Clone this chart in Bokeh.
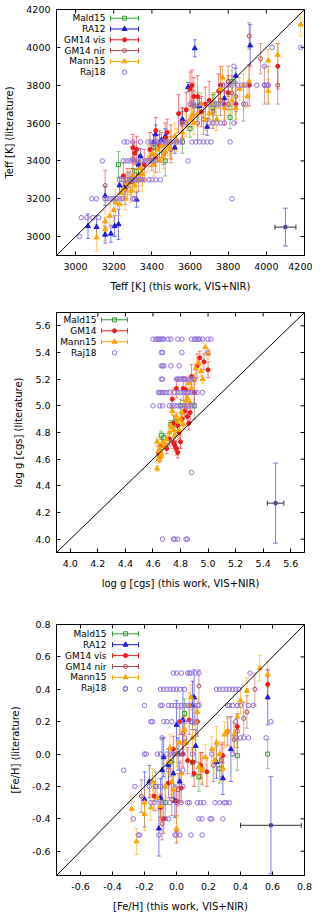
from bokeh.plotting import figure
from bokeh.models import (ColumnDataSource, Whisker, TeeHead, Slope,
                          FixedTicker, NumeralTickFormatter, Range1d, Label)
from bokeh.layouts import column
from bokeh.embed import file_html
from bokeh.resources import INLINE

FONT = "DejaVu Sans"

# ---------------- colours ----------------
C_MALD = "#2f9a2f"
C_RA = "#1a1ae0"
C_GMV = "#f01818"
C_GMN = "#b24a4a"
C_MANN = "#ffa500"
C_RAJ = "#9370db"

# ---------------- panel 1 : Teff ----------------
teff_range = [2900, 4200]
teff_ticks = [3000, 3200, 3400, 3600, 3800, 4000, 4200]

teff_mald15_x = [3225, 3300, 3320, 3410, 3470, 3560, 3600, 3640, 3720, 3730, 3810, 3820]
teff_mald15_y = [3380, 3300, 3345, 3470, 3400, 3500, 3570, 3690, 3680, 3700, 3630, 3820]
teff_mald15_e = [70, 60, 60, 70, 80, 60, 45, 70, 70, 60, 60, 60]

teff_ra12_x = [3065, 3110, 3155, 3155, 3185, 3205, 3225, 3230, 3255, 3280, 3320, 3330, 3340, 3420,
               3450, 3470, 3520, 3560, 3590, 3625, 3650, 3690, 3780, 3840, 3915, 3300, 3410]
teff_ra12_y = [3055, 3050, 3010, 3215, 3015, 3055, 3065, 3270, 3260, 3300, 3195, 3380, 3425, 3540,
               3510, 3530, 3470, 3620, 3790, 3995, 3690, 3580, 3730, 3850, 4010, 3320, 3500]
teff_ra12_e = [65, 60, 45, 50, 45, 55, 80, 45, 50, 40, 40, 50, 40, 50,
               40, 40, 30, 40, 25, 45, 40, 45, 40, 40, 110, 40, 40]

teff_gm14vis_x = [3250, 3270, 3300, 3310, 3320, 3360, 3390, 3420, 3440, 3470, 3480, 3500, 3540, 3560, 3580,
                  3600, 3610, 3620, 3640, 3660, 3680, 3700, 3750, 3760, 3780, 3800, 3840, 3910, 4060, 3420]
teff_gm14vis_y = [3320, 3280, 3470, 3440, 3460, 3380, 3460, 3560, 3480, 3520, 3550, 3500, 3650, 3600, 3670,
                  3780, 3800, 3740, 3740, 3660, 3700, 3720, 3770, 3800, 3700, 3760, 3700, 3800, 3900, 3420]
teff_gm14vis_e = [70, 80, 70, 60, 70, 80, 90, 70, 60, 80, 70, 90, 100, 80, 90,
                  90, 80, 100, 110, 80, 90, 100, 90, 100, 110, 90, 100, 110, 120, 80]

teff_gm14nir_x = [3155, 3260, 3290, 3300, 3330, 3400, 3440, 3460, 3500, 3560, 3620, 3640, 3670,
                  3720, 3760, 3800, 3820, 3840, 3880, 3910, 3970, 3990, 4010, 4060, 3610]
teff_gm14nir_y = [3270, 3250, 3290, 3410, 3320, 3420, 3480, 3440, 3460, 3600, 3690, 3600, 3620,
                  3660, 3720, 3820, 3760, 3740, 3700, 4060, 3940, 3800, 3800, 3800, 3700]
teff_gm14nir_e = [80, 80, 70, 90, 80, 70, 80, 60, 70, 80, 80, 90, 80,
                  90, 80, 80, 90, 80, 90, 70, 80, 100, 100, 100, 90]

teff_mann15_x = [3110, 3155, 3155, 3180, 3200, 3210, 3230, 3240, 3250, 3260, 3270, 3280, 3290, 3300, 3310,
                 3320, 3340, 3350, 3380, 3400, 3410, 3420, 3430, 3450, 3460, 3470, 3480, 3490, 3500, 3520,
                 3530, 3560, 3580, 3600, 3610, 3620, 3640, 3660, 3680, 3700, 3720, 3740, 3760, 3770, 3780,
                 3800, 3820, 3840, 3860, 3880, 3900, 3910, 4010, 4010, 4060, 4180, 3350, 3440]
teff_mann15_y = [2995, 3080, 3040, 3110, 3140, 3180, 3170, 3230, 3250, 3200, 3280, 3300, 3240, 3320, 3270,
                 3300, 3360, 3330, 3410, 3440, 3380, 3430, 3460, 3480, 3420, 3450, 3490, 3470, 3500, 3530,
                 3510, 3550, 3600, 3620, 3640, 3600, 3650, 3700, 3620, 3650, 3700, 3620, 3780, 3840, 3680,
                 3700, 3720, 3680, 3780, 3800, 3740, 3820, 3770, 3930, 3960, 4120, 3300, 3400]
teff_mann15_e = [70, 60, 60, 60, 60, 70, 60, 60, 50, 60, 60, 60, 60, 70, 60,
                 60, 60, 60, 70, 60, 60, 60, 60, 70, 60, 60, 60, 60, 60, 70,
                 60, 60, 70, 60, 60, 60, 70, 60, 60, 60, 60, 60, 70, 60, 60,
                 60, 70, 60, 60, 60, 60, 70, 60, 60, 60, 60, 60, 60]

teff_raj18_x = [3020,
                3030, 3060, 3090, 3120,
                3085, 3110, 3155, 3170, 3185, 3200, 3215, 3230, 3245, 3300, 3310, 3820,
                3230, 3250, 3270, 3285, 3300, 3315, 3330, 3345, 3360, 3385, 3400, 3420, 3445,
                3140, 3250, 3265, 3280, 3295, 3310, 3325, 3345, 3360, 3375, 3390, 3405, 3420, 3590,
                3255, 3270, 3300, 3340, 3380, 3395, 3410, 3425, 3440, 3455, 3470, 3485, 3500, 3515,
                3530, 3545, 3560, 3610, 3630, 3650, 3670, 3690, 3710, 3810,
                3550, 3580, 3700, 3720, 3740, 3760, 3780, 3830,
                3600, 3620, 3650, 3700, 3720, 3740, 3760, 3780, 3800, 3840, 3890,
                3770, 3800, 3820, 3850, 3870, 3890, 3910, 3950, 3990, 4000, 4010,
                3830, 3990,
                4030, 4180]
teff_raj18_y = [3000,
                3100, 3100, 3100, 3100,
                3200, 3200, 3200, 3200, 3200, 3200, 3200, 3200, 3200, 3200, 3200, 3200,
                3300, 3300, 3300, 3300, 3300, 3300, 3300, 3300, 3300, 3300, 3300, 3300, 3300,
                3400, 3400, 3400, 3400, 3400, 3400, 3400, 3400, 3400, 3400, 3400, 3400, 3400, 3400,
                3500, 3500, 3500, 3500, 3500, 3500, 3500, 3500, 3500, 3500, 3500, 3500, 3500, 3500,
                3500, 3500, 3500, 3500, 3500, 3500, 3500, 3500, 3500, 3500,
                3600, 3600, 3600, 3600, 3600, 3600, 3600, 3600,
                3700, 3700, 3700, 3700, 3700, 3700, 3700, 3700, 3700, 3700, 3700,
                3800, 3800, 3800, 3800, 3800, 3800, 3800, 3800, 3800, 3800, 3800,
                3900, 3900,
                4000, 4000]

teff_typ = [4100, 3050]
teff_typ_err = [55, 100]

# ---------------- panel 2 : log g ----------------
logg_range = [3.9, 5.7]
logg_ticks = [4.0, 4.2, 4.4, 4.6, 4.8, 5.0, 5.2, 5.4, 5.6]

logg_mald15_x = [4.66, 4.73, 4.76, 4.80, 4.90, 4.68]
logg_mald15_y = [4.78, 4.86, 4.88, 5.00, 5.00, 4.76]
logg_mald15_e = [0.03, 0.03, 0.04, 0.05, 0.10, 0.03]

logg_gm14_x = [4.64, 4.65, 4.66, 4.70, 4.72, 4.74, 4.75, 4.76, 4.77, 4.78, 4.77, 4.79, 4.80, 4.82,
               4.83, 4.84, 4.85, 4.86, 4.87, 4.88, 4.90, 4.92, 4.94, 4.97, 5.00, 4.81, 4.78, 4.75]
logg_gm14_y = [4.65, 4.62, 4.70, 4.68, 4.75, 5.05, 4.87, 4.70, 4.68, 4.65, 5.13, 4.80, 4.73, 5.13,
               4.96, 5.12, 4.92, 4.87, 4.95, 5.22, 5.10, 5.30, 5.36, 5.33, 5.27, 4.90, 4.85, 4.72]
logg_gm14_e = [0.05, 0.04, 0.05, 0.04, 0.05, 0.07, 0.06, 0.04, 0.05, 0.04, 0.07, 0.05, 0.05, 0.09,
               0.06, 0.08, 0.06, 0.05, 0.07, 0.09, 0.08, 0.09, 0.05, 0.06, 0.06, 0.05, 0.05, 0.04]

logg_mann15_x = [4.63, 4.63, 4.64, 4.65, 4.66, 4.67, 4.68, 4.72, 4.73, 4.74, 4.75, 4.76, 4.78, 4.79,
                 4.80, 4.81, 4.82, 4.83, 4.84, 4.85, 4.86, 4.87, 4.88, 4.90, 4.91, 4.93, 4.95, 4.96,
                 4.98, 5.00, 4.70, 4.77, 4.64, 4.66]
logg_mann15_y = [4.53, 4.73, 4.60, 4.68, 4.64, 4.72, 4.70, 4.80, 4.85, 4.96, 4.82, 4.78, 4.88, 4.82,
                 4.90, 4.95, 4.86, 5.00, 5.04, 5.06, 5.17, 5.02, 5.13, 5.20, 5.28, 5.32, 5.26, 5.20,
                 5.44, 5.39, 4.75, 4.92, 4.66, 4.62]
logg_mann15_e = [0.02, 0.03, 0.03, 0.03, 0.02, 0.03, 0.03, 0.03, 0.04, 0.03, 0.03, 0.03, 0.03, 0.03,
                 0.03, 0.04, 0.03, 0.03, 0.04, 0.03, 0.04, 0.03, 0.04, 0.04, 0.04, 0.04, 0.04, 0.03,
                 0.04, 0.04, 0.03, 0.03, 0.03, 0.03]

logg_raj18_x = [4.60, 4.62, 4.63, 4.64, 4.65, 4.66, 4.67, 4.68, 4.71, 4.73, 4.78, 4.81, 4.88, 4.90,
                4.91, 4.92, 4.93, 4.94, 4.96, 5.00, 5.02,
                4.66, 4.67, 4.81, 5.00,
                4.66, 4.67, 4.68, 4.73, 4.79,
                4.66, 4.67, 4.77, 4.78, 4.79, 4.80, 4.82, 4.83, 4.84, 4.86, 4.88, 4.90,
                4.64, 4.65, 4.66, 4.67, 4.68, 4.70, 4.72, 4.76, 4.78, 4.80, 4.82, 4.84, 4.85,
                4.86, 4.88, 4.90, 4.92, 4.96,
                4.60, 4.65, 4.67, 4.72, 4.74, 4.76, 4.78, 4.80, 4.82, 4.84, 4.86, 4.88, 4.90,
                4.88,
                4.67, 4.75, 4.76, 4.78, 4.84, 4.85]
logg_raj18_y = [5.5] * 21 + [5.4] * 4 + [5.3] * 5 + [5.2] * 12 + [5.1] * 18 + [5.0] * 13 + [4.5] + [4.0] * 6

logg_typ = [5.49, 4.27]
logg_typ_err = [0.06, 0.30]

# ---------------- panel 3 : [Fe/H] ----------------
feh_range = [-0.75, 0.8]
feh_ticks = [-0.6, -0.4, -0.2, 0.0, 0.2, 0.4, 0.6, 0.8]

feh_mald15_x = [-0.13, -0.07, -0.04, 0.05, 0.10, 0.14, 0.27, 0.38, 0.57]
feh_mald15_y = [-0.20, -0.30, -0.05, 0.25, -0.05, -0.14, -0.09, -0.01, 0.00]
feh_mald15_e = [0.09, 0.09, 0.09, 0.09, 0.09, 0.09, 0.09, 0.09, 0.09]

feh_ra12_x = [-0.20, -0.17, -0.11, -0.10, -0.09, -0.08, -0.05, -0.02, -0.01, 0.00,
              0.02, 0.04, 0.10, 0.11, 0.12, 0.25, 0.29, 0.34, 0.57, 0.01]
feh_ra12_y = [-0.28, -0.17, -0.46, -0.27, -0.10, -0.02, -0.07, -0.12, -0.29, 0.18,
              -0.17, 0.21, 0.30, 0.35, 0.05, -0.05, -0.15, 0.03, 0.35, 0.00]
feh_ra12_e = [0.17, 0.10, 0.17, 0.12, 0.20, 0.12, 0.10, 0.15, 0.10, 0.15,
              0.12, 0.20, 0.15, 0.17, 0.10, 0.10, 0.10, 0.20, 0.17, 0.10]

feh_gm14vis_x = [-0.14, -0.10, -0.08, -0.02, 0.00, 0.02, 0.03, 0.07, 0.08, 0.11,
                 0.13, 0.15, 0.19, 0.29, 0.32, 0.38, 0.57, 0.10, -0.05, 0.04]
feh_gm14vis_y = [-0.26, -0.33, -0.40, 0.03, -0.29, 0.20, -0.21, -0.04, 0.21, -0.12,
                 0.20, -0.07, -0.11, -0.01, 0.14, 0.17, 0.43, -0.05, -0.18, 0.00]
feh_gm14vis_e = [0.09, 0.08, 0.09, 0.08, 0.09, 0.08, 0.09, 0.08, 0.09, 0.08,
                 0.09, 0.08, 0.09, 0.08, 0.09, 0.08, 0.09, 0.08, 0.09, 0.08]

feh_gm14nir_x = [-0.22, -0.09, -0.03, 0.00, 0.01, 0.04, 0.14, 0.16, 0.23, 0.28, 0.38, 0.42, 0.44, 0.49, 0.36]
feh_gm14nir_y = [-0.26, -0.43, -0.28, -0.47, -0.22, 0.13, 0.42, -0.09, -0.07, -0.04, 0.14, 0.22, 0.26, 0.40, 0.09]
feh_gm14nir_e = [0.10, 0.10, 0.10, 0.08, 0.10, 0.10, 0.10, 0.10, 0.10, 0.10, 0.10, 0.10, 0.10, 0.10, 0.10]

feh_mann15_x = [-0.28, -0.25, -0.20, -0.20, -0.16, -0.15, -0.12, -0.10, -0.07, -0.05,
                -0.04, -0.03, -0.02, 0.00, 0.00, 0.02, 0.03, 0.05, 0.06, 0.08,
                0.09, 0.10, 0.12, 0.13, 0.14, 0.16, 0.18, 0.22, 0.25, 0.27,
                0.29, 0.30, 0.32, 0.36, 0.38, 0.40, 0.44, 0.52, 0.57, 0.24]
feh_mann15_y = [-0.34, -0.54, -0.37, -0.30, -0.33, -0.17, -0.27, -0.32, -0.20, -0.05,
                0.04, -0.17, -0.22, -0.46, 0.00, 0.07, -0.12, 0.15, 0.07, 0.30,
                0.35, 0.10, 0.20, 0.26, -0.08, -0.10, -0.02, 0.03, 0.07, 0.00,
                -0.09, 0.12, 0.14, 0.12, 0.23, 0.33, 0.39, 0.53, 0.49, -0.04]
feh_mann15_e = [0.08, 0.08, 0.10, 0.08, 0.08, 0.08, 0.08, 0.08, 0.08, 0.08,
                0.08, 0.08, 0.08, 0.08, 0.08, 0.08, 0.08, 0.08, 0.08, 0.08,
                0.08, 0.08, 0.08, 0.08, 0.08, 0.08, 0.08, 0.08, 0.10, 0.08,
                0.08, 0.08, 0.08, 0.08, 0.08, 0.08, 0.08, 0.08, 0.08, 0.08]

feh_raj18_x = [-0.02, 0.00, 0.03, 0.07, 0.08, 0.09, 0.12, 0.14, 0.46,
               -0.32, -0.23, -0.10, -0.08, -0.06, -0.04, -0.02, 0.00, 0.02, 0.05,
               0.25, 0.27, 0.29, 0.31, 0.33, 0.35, 0.37, 0.39,
               -0.20, -0.10, -0.09, -0.05, -0.03, -0.01, 0.01, 0.03, 0.05, 0.07, 0.09,
               0.11, 0.13, 0.14, 0.32, 0.33, 0.35, 0.38, 0.40, 0.45, 0.48,
               -0.16, -0.15, -0.08, -0.06, -0.03, 0.02, 0.05, 0.09, 0.10, 0.13, 0.37, 0.59,
               -0.09, 0.05, 0.37, 0.40, 0.42, 0.45, 0.56,
               -0.20, -0.19, -0.12, -0.10, -0.06, -0.04, -0.02, 0.00, 0.02, 0.04, 0.10, 0.22, 0.35,
               -0.33, -0.05, 0.04,
               -0.26, -0.17, -0.13, -0.10, 0.04,
               -0.16, -0.14, -0.09, -0.04, 0.00, 0.03, 0.07, 0.08, 0.13, 0.15, 0.17,
               0.24, 0.27, 0.30, 0.31, 0.33,
               -0.27, -0.07, -0.05, 0.14, 0.16, 0.21, 0.22, 0.29,
               -0.24, -0.23, -0.11, -0.01, 0.00, 0.02, 0.09, 0.16]
feh_raj18_y = ([0.5] * 9 + [0.4] * 18 + [0.3] * 21 + [0.2] * 12 + [0.1] * 7 + [0.0] * 13 +
               [-0.1] * 3 + [-0.2] * 5 + [-0.3] * 16 + [-0.4] * 8 + [-0.5] * 8)

feh_typ = [0.59, -0.44]
feh_typ_err = [0.19, 0.30]


# ---------------- helpers ----------------
FW = 248
TICK = 4


def make_fig(rng, ticks, fmt, xlabel, ylabel, fh, top, bottom):
    p = figure(x_range=Range1d(rng[0], rng[1]), y_range=Range1d(rng[0], rng[1]),
               frame_width=FW, frame_height=fh,
               min_border_left=56, min_border_right=8, min_border_top=top, min_border_bottom=bottom,
               output_backend="svg", toolbar_location=None,
               x_axis_label=xlabel, y_axis_label=ylabel)
    p.xgrid.visible = False
    p.ygrid.visible = False
    p.outline_line_color = "black"
    p.outline_line_alpha = 1
    p.background_fill_color = "white"
    for ax in list(p.xaxis) + list(p.yaxis):
        ax.ticker = FixedTicker(ticks=ticks)
        ax.formatter = NumeralTickFormatter(format=fmt)
        ax.major_tick_in = TICK
        ax.major_tick_out = 0
        ax.minor_tick_line_color = None
        ax.axis_line_color = "black"
        ax.major_tick_line_color = "black"
        ax.major_label_text_font = FONT
        ax.major_label_text_font_size = "9.5px"
        ax.major_label_text_color = "black"
        ax.axis_label_text_font = FONT
        ax.axis_label_text_font_size = "10px"
        ax.axis_label_text_font_style = "normal"
        ax.axis_label_text_color = "black"
    p.xaxis.major_label_standoff = 7
    p.xaxis.axis_label_standoff = 8
    p.yaxis.major_label_standoff = 6
    p.yaxis.axis_label_standoff = 8
    # mirror tick marks on the top and right frame edges
    span = rng[1] - rng[0]
    inner_x = rng[1] - TICK / FW * span
    inner_y = rng[1] - TICK / fh * span
    p.segment(x0=ticks, x1=ticks, y0=[rng[1]] * len(ticks), y1=[inner_y] * len(ticks),
              line_color="black", line_width=1)
    p.segment(x0=[rng[1]] * len(ticks), x1=[inner_x] * len(ticks), y0=ticks, y1=ticks,
              line_color="black", line_width=1)
    p.add_layout(Slope(gradient=1, y_intercept=0, line_color="black", line_width=1))
    return p


def series(p, xs, ys, errs, color, marker, filled, size, err_alpha=0.55):
    if errs is not None:
        lo = [y - e for y, e in zip(ys, errs)]
        hi = [y + e for y, e in zip(ys, errs)]
        src = ColumnDataSource(dict(x=xs, lo=lo, hi=hi))
        p.add_layout(Whisker(source=src, base="x", lower="lo", upper="hi", dimension="height",
                             line_color=color, line_alpha=err_alpha, line_width=1,
                             lower_head=TeeHead(size=4, line_color=color, line_alpha=err_alpha),
                             upper_head=TeeHead(size=4, line_color=color, line_alpha=err_alpha)))
    p.scatter(xs, ys, marker=marker, size=size, line_color=color, line_width=1,
              fill_color=color if filled else None)


def typical(p, xy, err):
    x, y = xy
    ex, ey = err
    sx = ColumnDataSource(dict(y=[y], lo=[x - ex], hi=[x + ex]))
    p.add_layout(Whisker(source=sx, base="y", lower="lo", upper="hi", dimension="width",
                         line_color="#333333", line_width=1,
                         lower_head=TeeHead(size=5, line_color="#333333"),
                         upper_head=TeeHead(size=5, line_color="#333333")))
    sy = ColumnDataSource(dict(x=[x], lo=[y - ey], hi=[y + ey]))
    p.add_layout(Whisker(source=sy, base="x", lower="lo", upper="hi", dimension="height",
                         line_color=C_RAJ, line_width=1,
                         lower_head=TeeHead(size=5, line_color=C_RAJ),
                         upper_head=TeeHead(size=5, line_color=C_RAJ)))
    p.scatter([x], [y], marker="square", size=3, line_color="#5a3a9a", fill_color="#5a3a9a")


def legend(p, rng, fh, entries, text_px, s0_px, s1_px, top_px, dy_px):
    span = rng[1] - rng[0]

    def dx(px):
        return rng[0] + px / FW * span

    def dyv(py):
        return rng[1] - py / fh * span

    for i, (lab, color, marker, filled, size, err) in enumerate(entries):
        yy = dyv(top_px + i * dy_px)
        p.add_layout(Label(x=dx(text_px), y=yy, text=lab, text_align="right", text_baseline="middle",
                           text_font=FONT, text_font_size="9px", text_color="black"))
        xm = dx((s0_px + s1_px) / 2)
        if err:
            src = ColumnDataSource(dict(y=[yy], lo=[dx(s0_px)], hi=[dx(s1_px)]))
            p.add_layout(Whisker(source=src, base="y", lower="lo", upper="hi", dimension="width",
                                 line_color=color, line_width=1,
                                 lower_head=TeeHead(size=5, line_color=color),
                                 upper_head=TeeHead(size=5, line_color=color)))
        p.scatter([xm], [yy], marker=marker, size=size, line_color=color, line_width=1,
                  fill_color=color if filled else None)


# ---------------- panel 1 ----------------
p1 = make_fig(teff_range, teff_ticks, "0", "Teff [K] (this work, VIS+NIR)", "Teff [K] (literature)",
              246, 9, 50)
series(p1, teff_mald15_x, teff_mald15_y, teff_mald15_e, C_MALD, "square", False, 4)
series(p1, teff_ra12_x, teff_ra12_y, teff_ra12_e, C_RA, "triangle", True, 5)
series(p1, teff_gm14vis_x, teff_gm14vis_y, teff_gm14vis_e, C_GMV, "circle", True, 4)
series(p1, teff_gm14nir_x, teff_gm14nir_y, teff_gm14nir_e, C_GMN, "circle", False, 4)
series(p1, teff_mann15_x, teff_mann15_y, teff_mann15_e, C_MANN, "triangle", True, 5)
series(p1, teff_raj18_x, teff_raj18_y, None, C_RAJ, "circle", False, 4.5)
typical(p1, teff_typ, teff_typ_err)
legend(p1, teff_range, 246,
       [("Mald15", C_MALD, "square", False, 4, True),
        ("RA12", C_RA, "triangle", True, 5, True),
        ("GM14 vis", C_GMV, "circle", True, 4, True),
        ("GM14 nir", C_GMN, "circle", False, 4, True),
        ("Mann15", C_MANN, "triangle", True, 5, True),
        ("Raj18", C_RAJ, "circle", False, 4.5, False)],
       49, 54, 82, 8.7, 10.8)

# ---------------- panel 2 ----------------
p2 = make_fig(logg_range, logg_ticks, "0.0", "log g [cgs] (this work, VIS+NIR)", "log g [cgs] (literature)",
              240, 7, 50)
series(p2, logg_mald15_x, logg_mald15_y, logg_mald15_e, C_MALD, "square", False, 4)
series(p2, logg_gm14_x, logg_gm14_y, logg_gm14_e, C_GMV, "circle", True, 4)
series(p2, logg_mann15_x, logg_mann15_y, logg_mann15_e, C_MANN, "triangle", True, 5)
series(p2, logg_raj18_x, logg_raj18_y, None, C_RAJ, "circle", False, 4.5)
typical(p2, logg_typ, logg_typ_err)
legend(p2, logg_range, 240,
       [("Mald15", C_MALD, "square", False, 4, True),
        ("GM14", C_GMV, "circle", True, 4, True),
        ("Mann15", C_MANN, "triangle", True, 5, True),
        ("Raj18", C_RAJ, "circle", False, 4.5, False)],
       40, 45, 71, 7.3, 11)

# ---------------- panel 3 ----------------
p3 = make_fig(feh_range, feh_ticks, "0.0", "[Fe/H] (this work, VIS+NIR)", "[Fe/H] (literature)",
              251, 22, 37)
series(p3, feh_mald15_x, feh_mald15_y, feh_mald15_e, C_MALD, "square", False, 4)
series(p3, feh_ra12_x, feh_ra12_y, feh_ra12_e, C_RA, "triangle", True, 5)
series(p3, feh_gm14vis_x, feh_gm14vis_y, feh_gm14vis_e, C_GMV, "circle", True, 4)
series(p3, feh_gm14nir_x, feh_gm14nir_y, feh_gm14nir_e, C_GMN, "circle", False, 4)
series(p3, feh_mann15_x, feh_mann15_y, feh_mann15_e, C_MANN, "triangle", True, 5)
series(p3, feh_raj18_x, feh_raj18_y, None, C_RAJ, "circle", False, 4.5)
typical(p3, feh_typ, feh_typ_err)
legend(p3, feh_range, 251,
       [("Mald15", C_MALD, "square", False, 4, True),
        ("RA12", C_RA, "triangle", True, 5, True),
        ("GM14 vis", C_GMV, "circle", True, 4, True),
        ("GM14 nir", C_GMN, "circle", False, 4, True),
        ("Mann15", C_MANN, "triangle", True, 5, True),
        ("Raj18", C_RAJ, "circle", False, 4.5, False)],
       50, 56, 82, 9.3, 10.9)

layout = column(p1, p2, p3, spacing=0)
open("out.html", "w").write(file_html(layout, INLINE))
